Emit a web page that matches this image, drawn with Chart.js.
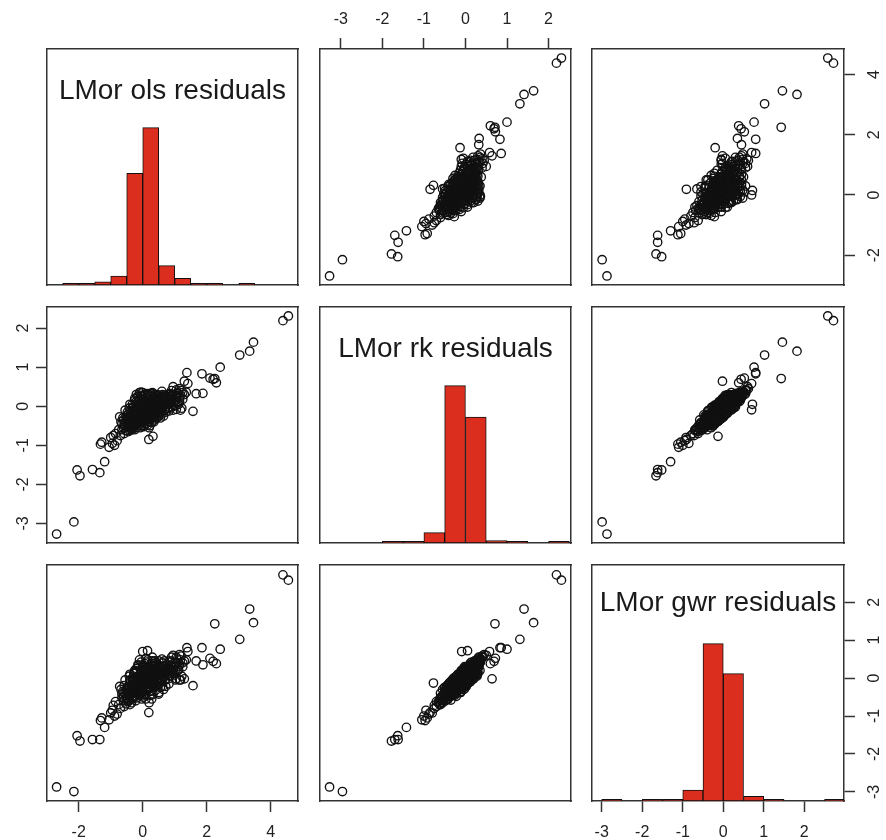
<!DOCTYPE html>
<html>
<head>
<meta charset="utf-8">
<script src="https://cdn.jsdelivr.net/npm/chart.js@4.4.0/dist/chart.umd.min.js"></script>
<style>
  body { margin: 0; background: #fff; width: 886px; height: 840px; position: relative; overflow: hidden;
         font-family: "Liberation Sans", Arial, sans-serif; }
  canvas { position: absolute; pointer-events: none; }
  .title { position: absolute; font-size: 28px; line-height: 28px; color: #1a1a1a; text-align: center; white-space: nowrap; }
</style>
</head>
<body>
<script>
// residuals per observation (same order in all three arrays)
const ols = [
  // outliers
  -2.69, -2.15, 4.38, 4.55, 3.03, 3.34, 3.46, 2.25, 2.42, 1.85,
  1.38, 2.10, 2.20, 2.30, 1.57, 0.00, 0.15, 1.30, 0.32, 0.19,
  -0.05, -0.72,
  // lower tail
  -2.05, -1.96, -1.57, -1.34, -1.19, -1.32, -1.28, -1.05, -0.95, -1.00,
  -0.88, -0.92, -0.80, -0.85, -0.75, -0.70,
  // main cloud
  -0.60, -0.55, -0.52, -0.50, -0.48, -0.45, -0.42, -0.40, -0.38, -0.35,
  -0.33, -0.30, -0.30, -0.28, -0.25, -0.25, -0.22, -0.20, -0.20, -0.18,
  -0.15, -0.15, -0.12, -0.10, -0.10, -0.08, -0.05, -0.05, -0.02, 0.00,
  0.00, 0.02, 0.05, 0.05, 0.08, 0.08, 0.10, 0.12, 0.12, 0.15,
  0.15, 0.18, 0.18, 0.20, 0.22, 0.22, 0.25, 0.25, 0.28, 0.28,
  0.30, 0.32, 0.35, 0.35, 0.38, 0.38, 0.40, 0.42, 0.42, 0.45,
  0.45, 0.48, 0.48, 0.50, 0.52, 0.55, 0.55, 0.58, 0.60, 0.62,
  0.65, 0.68, 0.70, 0.72, 0.75, 0.78, 0.80, 0.85, 0.88, 0.90,
  0.95, 1.00, 1.02, 1.08, 1.10, 1.15, 1.20, 1.25, 1.22, 1.05,
  -0.62, -0.58, -0.65, -0.45, -0.35, -0.18, 0.02, 0.30, 0.60, 0.90,
  -0.40, -0.25, 0.00, -0.10, 1.30, 1.15, 0.95, 1.18, 1.67, 1.88,
  1.36, 1.05, 1.41,
  // main cloud, wider spread
  -0.55, -0.50, -0.48, -0.45, -0.42, -0.40, -0.38, -0.35, -0.32, -0.30,
  -0.28, -0.25, -0.22, -0.20, -0.18, -0.15, -0.12, -0.10, -0.08, -0.05,
  -0.03, 0.00, 0.02, 0.04, 0.06, 0.08, 0.10, 0.12, 0.14, 0.16,
  0.18, 0.20, 0.22, 0.24, 0.26, 0.28, 0.30, 0.32, 0.34, 0.36,
  0.38, 0.40, 0.42, 0.44, 0.46, 0.50, 0.52, 0.55, 0.58, 0.60,
  0.62, 0.65, 0.68, 0.70, 0.72, 0.75, 0.78, 0.80, 0.82, 0.85,
  0.88, 0.92, 0.95, 0.98, 1.02, 1.05, 1.10, 1.12, 1.18, 1.25,
  -0.60, -0.58, -0.52, -0.65, -0.68, -0.45, -0.35, -0.28, -0.22, -0.15,
  -0.10, -0.05, 0.00, 0.05, 0.10, 0.15, 0.20, 0.25, 0.30, 0.35,
  0.45, 0.55, 0.65, -0.40, -0.20, 0.05, 0.12, 0.32, 0.48, 0.72,
  // dense centre
  -0.40, -0.38, -0.36, -0.34, -0.32, -0.30, -0.28, -0.26, -0.24, -0.22,
  -0.20, -0.18, -0.16, -0.14, -0.12, -0.10, -0.08, -0.06, -0.04, -0.02,
  0.00, 0.02, 0.04, 0.06, 0.08, 0.10, 0.12, 0.14, 0.16, 0.18,
  0.20, 0.22, 0.24, 0.26, 0.28, 0.30, 0.32, 0.34, 0.36, 0.38,
  0.40, 0.42, 0.44, 0.46, 0.48, 0.50, 0.52, 0.55, 0.58, 0.60,
  0.62, 0.65, 0.68, 0.70, -0.35, -0.25, -0.15, -0.05, 0.05, 0.15,
  0.25, 0.35, 0.45, 0.55, 0.75, 0.80, 0.85, 0.90, -0.45, -0.50,
  1.00, 1.15, 0.95, -0.58, 0.10, -0.20, 0.20, 0.00, 0.30, 0.50
];
const rk = [
  -3.27, -2.96, 2.19, 2.31, 1.31, 1.41, 1.64, 0.71, 1.00, 0.83,
  0.86, 0.72, 0.69, 0.60, -0.13, -0.09, 0.05, 0.64, -0.77, -0.85,
  0.36, -0.27,
  -1.63, -1.78, -1.62, -1.70, -1.42, -0.97, -0.92, -1.05, -0.95, -0.80,
  -1.00, -0.75, -0.88, -0.70, -0.60, -0.75,
  -0.55, -0.40, -0.62, -0.30, -0.48, -0.20, -0.55, -0.35, -0.45, -0.25,
  -0.50, -0.10, -0.38, -0.30, -0.45, -0.18, -0.35, -0.05, -0.28, -0.40,
  -0.15, -0.32, -0.22, -0.42, 0.02, -0.28, -0.12, -0.35, -0.20, -0.05,
  -0.30, -0.15, 0.10, -0.25, -0.38, -0.10, -0.20, 0.05, -0.30, -0.15,
  0.20, -0.05, -0.25, -0.12, 0.08, -0.20, -0.02, -0.32, 0.15, -0.10,
  -0.18, 0.02, 0.25, -0.08, -0.22, 0.10, -0.02, -0.15, 0.18, 0.05,
  -0.10, 0.28, -0.05, 0.10, -0.18, 0.02, 0.22, -0.08, 0.12, 0.30,
  0.00, 0.18, -0.10, 0.08, 0.25, 0.05, 0.15, 0.32, 0.10, 0.20,
  0.05, 0.28, 0.15, 0.35, 0.10, 0.22, 0.40, 0.18, -0.05, -0.08,
  -0.30, -0.70, -0.45, -0.65, -0.60, -0.55, -0.48, 0.35, 0.38, 0.40,
  0.05, 0.15, 0.25, 0.35, 0.30, 0.45, 0.50, -0.10, 0.32, 0.33,
  0.36, 0.42, 0.58,
  -0.10, -0.62, -0.15, -0.40, -0.05, -0.62, -0.18, -0.48, 0.05, -0.58,
  -0.02, 0.20, -0.48, 0.12, -0.22, 0.25, -0.48, 0.18, -0.55, 0.28,
  -0.42, 0.15, -0.05, -0.52, 0.30, 0.00, -0.45, 0.22, -0.08, 0.32,
  -0.40, 0.10, -0.50, 0.25, -0.15, -0.42, 0.18, -0.28, 0.08, -0.35,
  0.30, -0.20, 0.00, -0.30, 0.22, -0.25, 0.15, -0.12, 0.25, -0.20,
  0.08, -0.25, 0.28, 0.05, -0.15, 0.15, -0.05, 0.30, -0.12, 0.12,
  0.25, -0.02, 0.30, 0.12, 0.02, 0.25, 0.32, 0.05, 0.28, 0.35,
  -0.35, -0.50, -0.25, -0.60, -0.40, -0.30, -0.35, -0.40, -0.28, -0.05,
  -0.30, 0.05, -0.20, -0.35, 0.12, -0.25, -0.10, 0.05, -0.05, 0.12,
  -0.05, 0.05, 0.15, -0.25, -0.15, 0.05, -0.02, -0.12, 0.10, 0.20,
  -0.30, -0.12, -0.42, -0.22, -0.35, -0.02, -0.25, -0.45, -0.08, -0.38,
  0.05, -0.30, -0.12, 0.10, -0.40, -0.18, 0.08, -0.32, -0.10, 0.18,
  -0.38, 0.02, -0.22, 0.12, -0.30, -0.05, 0.20, -0.35, 0.02, -0.18,
  0.15, -0.28, -0.05, 0.10, -0.25, 0.05, -0.15, 0.20, -0.02, -0.30,
  0.12, -0.10, 0.18, -0.20, 0.02, 0.22, -0.08, 0.12, -0.15, 0.18,
  -0.02, 0.22, -0.10, 0.10, -0.55, -0.60, 0.25, -0.50, 0.28, -0.48,
  0.28, -0.40, 0.30, -0.30, 0.00, 0.20, -0.05, 0.28, -0.50, -0.35,
  0.15, 0.12, -0.10, -0.45, 0.30, 0.30, -0.55, 0.35, 0.32, -0.25
];
const gwr = [
  -2.87, -2.99, 2.72, 2.58, 1.02, 1.82, 1.46, 1.43, 0.76, 0.80,
  0.80, 0.52, 0.44, 0.38, -0.20, 0.70, 0.72, -0.02, -0.13, -0.91,
  0.42, -0.22,
  -1.52, -1.66, -1.62, -1.62, -1.30, -1.12, -1.05, -1.10, -0.85, -0.92,
  -1.00, -0.72, -0.95, -0.62, -0.70, -0.80,
  -0.60, -0.45, -0.68, -0.30, -0.50, -0.22, -0.58, -0.38, -0.42, -0.20,
  -0.55, -0.08, -0.40, -0.25, -0.48, -0.15, -0.30, 0.00, -0.32, -0.38,
  -0.12, -0.35, -0.18, -0.45, 0.05, -0.25, -0.10, -0.30, -0.22, 0.02,
  -0.35, -0.12, 0.15, -0.20, -0.42, -0.05, -0.18, 0.10, -0.28, -0.10,
  0.25, 0.00, -0.30, -0.15, 0.12, -0.18, 0.05, -0.35, 0.20, -0.05,
  -0.22, 0.00, 0.30, -0.10, -0.15, 0.15, 0.02, -0.18, 0.25, 0.08,
  -0.05, 0.35, -0.10, 0.12, -0.12, 0.08, 0.28, -0.02, 0.18, 0.40,
  0.05, 0.22, -0.05, 0.15, 0.35, 0.10, 0.20, 0.45, 0.18, 0.30,
  0.12, 0.40, 0.22, 0.50, 0.20, 0.35, 0.58, 0.30, 0.05, -0.02,
  -0.35, -0.75, -0.42, -0.62, -0.65, -0.52, -0.50, 0.45, 0.50, 0.55,
  0.10, 0.20, 0.30, 0.48, 0.45, 0.62, 0.60, -0.05, 0.45, 0.35,
  0.48, 0.55, 0.70,
  -0.05, -0.55, -0.25, -0.30, 0.05, -0.70, -0.05, -0.35, -0.05, -0.50,
  0.12, 0.15, -0.60, 0.25, -0.40, 0.35, -0.35, 0.05, -0.45, 0.22,
  -0.55, 0.35, -0.20, -0.42, 0.38, 0.20, -0.55, 0.10, -0.25, 0.48,
  -0.28, 0.30, -0.45, 0.15, 0.00, -0.55, 0.38, -0.42, -0.08, -0.25,
  0.45, -0.32, 0.18, -0.20, 0.10, -0.38, 0.32, -0.25, 0.15, -0.10,
  0.25, -0.30, 0.45, -0.05, -0.22, 0.35, 0.10, 0.25, -0.15, 0.05,
  0.42, 0.15, 0.28, 0.30, -0.05, 0.38, 0.30, 0.22, 0.48, 0.40,
  -0.48, -0.38, -0.35, -0.52, -0.30, -0.45, -0.22, -0.48, -0.12, -0.15,
  -0.42, 0.15, -0.05, -0.45, 0.28, -0.12, -0.25, 0.22, -0.18, 0.25,
  0.10, -0.08, 0.05, -0.12, -0.28, -0.05, 0.08, 0.02, 0.22, 0.12,
  -0.05, -0.38, -0.20, -0.48, -0.10, -0.28, 0.02, -0.25, 0.18, -0.12,
  -0.15, -0.05, -0.38, 0.32, -0.15, 0.08, -0.12, -0.05, -0.35, 0.05,
  -0.12, 0.28, 0.05, -0.10, -0.05, -0.30, 0.42, -0.10, -0.22, 0.10,
  -0.05, 0.00, 0.25, 0.35, -0.45, -0.15, 0.12, 0.02, 0.30, -0.08,
  0.40, 0.15, -0.02, 0.05, -0.20, 0.45, 0.20, -0.05, 0.10, 0.40,
  -0.22, 0.10, 0.12, 0.32, -0.30, -0.40, 0.05, -0.25, 0.10, -0.30,
  0.10, -0.20, 0.12, -0.05, 0.28, -0.02, 0.22, 0.05, -0.25, -0.58,
  0.42, -0.05, 0.20, -0.20, 0.52, 0.15, -0.65, 0.20, 0.55, -0.42
];

// histogram bins (width 0.5): centres and heights relative to the tallest bin
const olsBins = [-2.25, -1.75, -1.25, -0.75, -0.25, 0.25, 0.75, 1.25, 1.75, 2.25, 2.75, 3.25];
const olsHist = [0.01, 0.01, 0.02, 0.057, 0.71, 1.0, 0.123, 0.043, 0.01, 0.01, 0, 0.01];
const rkBins = [-1.75, -1.25, -0.75, -0.25, 0.25, 0.75, 1.25, 1.75, 2.25];
const rkHist = [0.01, 0.01, 0.066, 1.0, 0.80, 0.015, 0.01, 0, 0.01];
const gwrBins = [-2.75, -2.25, -1.75, -1.25, -0.75, -0.25, 0.25, 0.75, 1.25, 1.75, 2.25, 2.75];
const gwrHist = [0.01, 0, 0.01, 0.01, 0.07, 1.0, 0.81, 0.03, 0.01, 0, 0, 0.01];

// axis ranges and tick labels
const olsRange = [-2.99, 4.85];
const rkRange = [-3.5, 2.54];
const gwrRange = [-3.24, 2.98];
const olsTicks = [-2, 0, 2, 4];
const rkTicks = [-3, -2, -1, 0, 1, 2];
const gwrTicks = [-3, -2, -1, 0, 1, 2];

const vars = [
  { title: 'LMor ols residuals', data: ols, range: olsRange, ticks: olsTicks, bins: olsBins, hist: olsHist },
  { title: 'LMor rk residuals', data: rk, range: rkRange, ticks: rkTicks, bins: rkBins, hist: rkHist },
  { title: 'LMor gwr residuals', data: gwr, range: gwrRange, ticks: gwrTicks, bins: gwrBins, hist: gwrHist }
];

const M = 45;
const colX = [47, 320, 592], colW = [251, 251, 252];
const rowY = [49, 307, 565], rowH = [236, 236, 236];
const titleTop = [27, 27, 23];
const FONT = '"Liberation Sans", Arial, sans-serif';
const INK = '#333';

function makeAxis(pos, range, ticks, show) {
  const horiz = pos === 'top' || pos === 'bottom';
  const pad = { top: 18, bottom: 21, left: 5, right: 12 }[pos];
  return {
    type: 'linear', position: pos, axis: horiz ? 'x' : 'y',
    min: range[0], max: range[1], bounds: 'data', offset: false,
    afterBuildTicks: s => { s.ticks = ticks.map(v => ({ value: v })); },
    // fixed axis size so the plot box lands exactly on the panel
    afterFit: s => { if (horiz) s.height = M; else s.width = M; },
    grid: { display: show, drawOnChartArea: false, drawTicks: true, tickLength: 11,
            tickWidth: 1.5, tickColor: INK, offset: false },
    border: { display: true, color: INK, width: 1.5 },
    ticks: { display: show, color: '#222', padding: pad, font: { size: 16, family: FONT },
             minRotation: horiz ? 0 : 90, maxRotation: horiz ? 0 : 90, crossAlign: 'center',
             autoSkip: false, callback: v => String(v) }
  };
}

for (let r = 0; r < 3; r++) {
  for (let c = 0; c < 3; c++) {
    const canvas = document.createElement('canvas');
    canvas.width = colW[c] + 2 * M;
    canvas.height = rowH[r] + 2 * M;
    canvas.style.left = (colX[c] - M) + 'px';
    canvas.style.top = (rowY[r] - M) + 'px';
    document.body.appendChild(canvas);

    const xv = vars[c], yv = vars[r];
    const showTop = r === 0 && c === 1;
    const showBottom = r === 2 && c !== 1;
    const showLeft = c === 0 && r === 1;
    const showRight = c === 2 && r !== 1;
    const diag = r === c;

    const scales = {
      x: makeAxis('bottom', xv.range, xv.ticks, showBottom),
      x2: makeAxis('top', xv.range, xv.ticks, showTop),
      y: diag ? makeAxis('left', [0, 1.5], [], false) : makeAxis('left', yv.range, yv.ticks, showLeft),
      y2: makeAxis('right', yv.range, yv.ticks, showRight)
    };

    let config;
    if (diag) {
      config = {
        type: 'bar',
        data: { datasets: [{
          data: xv.bins.map((b, i) => ({ x: b, y: xv.hist[i] })),
          backgroundColor: '#dc2e1f', borderColor: '#111', borderWidth: 1, borderSkipped: false,
          barPercentage: 1, categoryPercentage: 1, xAxisID: 'x', yAxisID: 'y'
        }] }
      };
    } else {
      config = {
        type: 'scatter',
        data: { datasets: [{
          data: xv.data.map((v, i) => ({ x: v, y: yv.data[i] })),
          pointRadius: 4.2, pointBorderWidth: 1.35, borderColor: '#111',
          backgroundColor: 'rgba(0,0,0,0)', pointStyle: 'circle', clip: false,
          xAxisID: 'x', yAxisID: 'y'
        }] }
      };
    }
    config.options = {
      responsive: false, animation: false, events: [],
      layout: { padding: 0 },
      plugins: { legend: { display: false }, tooltip: { enabled: false } },
      scales: scales
    };
    new Chart(canvas.getContext('2d'), config);

    if (diag) {
      const t = document.createElement('div');
      t.className = 'title';
      t.textContent = xv.title;
      t.style.left = colX[c] + 'px';
      t.style.width = colW[c] + 'px';
      t.style.top = (rowY[r] + titleTop[r]) + 'px';
      document.body.appendChild(t);
    }
  }
}
</script>
</body>
</html>
